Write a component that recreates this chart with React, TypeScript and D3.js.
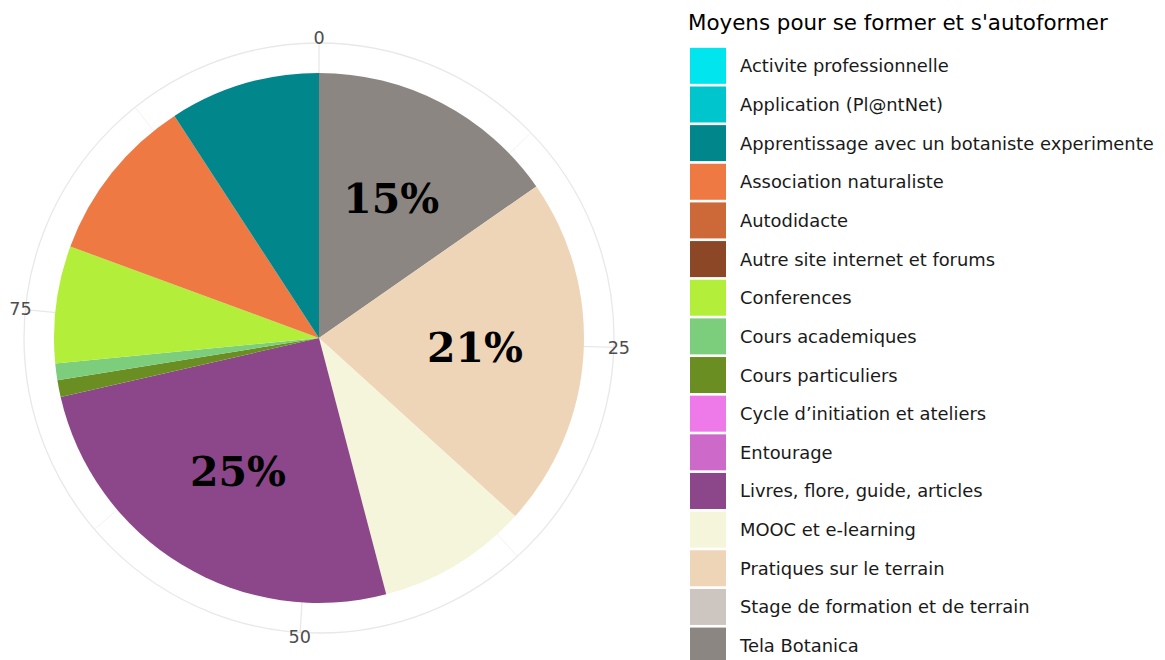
import React from "react";
import * as d3 from "d3";

const categories = [
  "Activite professionnelle",
  "Application (Pl@ntNet)",
  "Apprentissage avec un botaniste experimente",
  "Association naturaliste",
  "Autodidacte",
  "Autre site internet et forums",
  "Conferences",
  "Cours academiques",
  "Cours particuliers",
  "Cycle d\u2019initiation et ateliers",
  "Entourage",
  "Livres, flore, guide, articles",
  "MOOC et e-learning",
  "Pratiques sur le terrain",
  "Stage de formation et de terrain",
  "Tela Botanica",
];
const values = [0, 0, 9, 10, 0, 0, 7, 1, 1, 0, 0, 25, 9, 21, 0, 15];
const colors = [
  "#00E5EE", "#00C5CD", "#00868B", "#EE7942", "#CD6839", "#8B4726",
  "#B3EE3A", "#7CCD7C", "#6B8E23", "#EE7AE9", "#CD69C9", "#8B4789",
  "#F5F5DC", "#EED5B7", "#CDC5BF", "#8B8682",
];
const majorTicks = [0, 25, 50, 75];
const minorTicks = [12.5, 37.5, 62.5, 87.5];
const legendTitle = "Moyens pour se former et s'autoformer";
const labelThreshold = 15;

export default function App() {
  const W = 1165, H = 660;
  const cx = 319, cy = 338;
  const R = 265;
  const gridR = 295;
  const tickLabelR = 300;
  const labelR = 0.59 * R;

  const total = d3.sum(values);
  const angle = d3.scaleLinear().domain([0, total]).range([0, 2 * Math.PI]);

  const order = d3.range(categories.length).reverse();
  const pie = d3
    .pie<number>()
    .sort(null)
    .value((i) => values[i])
    .startAngle(0)
    .endAngle(angle(total));
  const arcs = pie(order);
  const arcGen = d3.arc<d3.PieArcDatum<number>>().innerRadius(0).outerRadius(R);

  const pt = (a: number, r: number) => [cx + r * Math.sin(a), cy - r * Math.cos(a)];

  const keyX = 690, keyW = 36, keyH = 36;
  const legendY = d3
    .scaleBand<number>()
    .domain(d3.range(categories.length))
    .range([46.5, 46.5 + 38.65 * categories.length]);

  return (
    <svg width={W} height={H} style={{ position: "absolute", left: 0, top: 0, background: "#fff" }}>
      <rect width={W} height={H} fill="#fff" />
      <circle cx={cx} cy={cy} r={gridR} fill="none" stroke="#e8e8e8" strokeWidth={1.3} />
      {minorTicks.map((t) => {
        const [x, y] = pt(angle(t), gridR);
        return <line key={"mi" + t} x1={cx} y1={cy} x2={x} y2={y} stroke="#f1f1f1" strokeWidth={0.9} />;
      })}
      {majorTicks.map((t) => {
        const [x, y] = pt(angle(t), gridR);
        return <line key={"ma" + t} x1={cx} y1={cy} x2={x} y2={y} stroke="#e8e8e8" strokeWidth={1.3} />;
      })}
      <g transform={`translate(${cx},${cy})`}>
        {arcs.map((a) =>
          a.endAngle - a.startAngle > 0 ? (
            <path key={a.data} d={arcGen(a) || ""} fill={colors[a.data]} />
          ) : null
        )}
      </g>
      {arcs
        .filter((a) => values[a.data] >= labelThreshold)
        .map((a) => {
          const mid = (a.startAngle + a.endAngle) / 2;
          const [x, y] = pt(mid, labelR);
          return (
            <text
              key={"l" + a.data}
              x={x}
              y={y}
              textAnchor="middle"
              dominantBaseline="central"
              fontFamily="DejaVu Serif"
              fontWeight="bold"
              fontSize={41}
              fill="#000"
            >
              {values[a.data]}%
            </text>
          );
        })}
      {majorTicks.map((t) => {
        const [x, y] = pt(angle(t), tickLabelR);
        return (
          <text
            key={"t" + t}
            x={x}
            y={y}
            textAnchor="middle"
            dominantBaseline="central"
            fontFamily="DejaVu Sans"
            fontSize={17.6}
            fill="#4d4d4d"
          >
            {t}
          </text>
        );
      })}
      <text x={688} y={22} dominantBaseline="central" fontFamily="DejaVu Sans" fontSize={21.4} fill="#000">
        {legendTitle}
      </text>
      {categories.map((c, i) => {
        const y0 = legendY(i)!;
        const bw = legendY.bandwidth();
        return (
          <g key={c}>
            <rect x={keyX} y={y0 + (bw - keyH) / 2} width={keyW} height={keyH} fill={colors[i]} />
            <text
              x={740}
              y={y0 + bw / 2}
              dominantBaseline="central"
              fontFamily="DejaVu Sans"
              fontSize={17.9}
              fill="#1a1a1a"
            >
              {c}
            </text>
          </g>
        );
      })}
    </svg>
  );
}
